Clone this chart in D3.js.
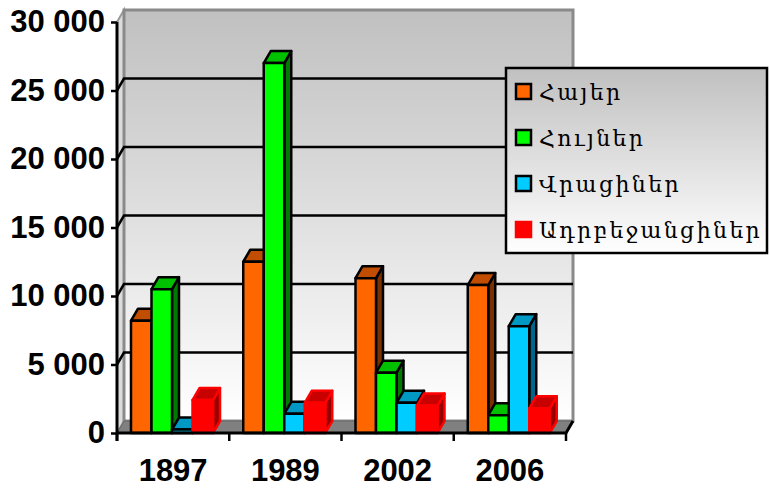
<!DOCTYPE html>
<html>
<head>
<meta charset="utf-8">
<script src="https://cdn.jsdelivr.net/npm/d3@7"></script>
<style>
    body { margin: 0; background: #fff; }
</style>
</head>
<body>
<div id="chart"></div>
<script>
var years = ["1897", "1989", "2002", "2006"];
var series = ["Հայեր", "Հույներ", "Վրացիներ", "Ադրբեջանցիներ"];
var armenians = [8200, 12500, 11300, 10800];
var greeks = [10500, 27000, 4400, 1300];
var georgians = [250, 1400, 2200, 7800];
var azerbaijanis = [2400, 2200, 2000, 1800];
var yTicks = [0, 5000, 10000, 15000, 20000, 25000, 30000];

var values = [armenians, greeks, georgians, azerbaijanis];
var colors = [
    { front: "#ff6600", top: "#c04d00", side: "#7a3000", stroke: "#000" },
    { front: "#00ff00", top: "#00c000", side: "#007a00", stroke: "#000" },
    { front: "#00ccff", top: "#0099c4", side: "#00658a", stroke: "#000" },
    { front: "#ff0000", top: "#c80000", side: "#960000", stroke: "#ff0000" }
];

/*********************** Plot Below *********************/
var width = 770, height = 488;
var dx = 7, dy = -12;
var x0 = 117, x1 = 566;

var y = d3.scaleLinear().domain([0, 30000]).range([433, 22]);
var x = d3.scaleBand().domain(years).range([x0, x1]);
var xs = d3.scaleBand().domain(series).range([14, 96]);

var fmt = d3.formatLocale({ decimal: ".", thousands: " ", grouping: [3], currency: ["", ""] }).format(",");

var svg = d3.select("#chart").append("svg")
    .attr("width", width)
    .attr("height", height);

var defs = svg.append("defs");
var grad = defs.append("linearGradient")
    .attr("id", "wall")
    .attr("x1", 0).attr("y1", 0).attr("x2", 0).attr("y2", 1);
grad.append("stop").attr("offset", "0%").attr("stop-color", "#c0c0c0");
grad.append("stop").attr("offset", "100%").attr("stop-color", "#ffffff");

var yTop = y(30000), yBase = y(0);

// side wall
svg.append("polygon")
    .attr("points", [[x0, yBase], [x0, yTop], [x0 + dx, yTop + dy], [x0 + dx, yBase + dy]].join(" "))
    .style("fill", "#dcdcdc")
    .style("stroke", "#999")
    .style("stroke-width", 2);

// back wall
svg.append("rect")
    .attr("x", x0 + dx)
    .attr("y", yTop + dy)
    .attr("width", x1 - x0)
    .attr("height", yBase - yTop)
    .style("fill", "url(#wall)")
    .style("stroke", "#8a8a8a")
    .style("stroke-width", 3);

// floor
svg.append("polygon")
    .attr("points", [[x0, yBase], [x1, yBase], [x1 + dx, yBase + dy], [x0 + dx, yBase + dy]].join(" "))
    .style("fill", "#808080")
    .style("stroke", "#666")
    .style("stroke-width", 1);

// gridlines
svg.append("g").selectAll("polyline")
    .data(yTicks.filter(function (d) { return d > 0 && d < 30000; }))
    .enter().append("polyline")
    .attr("points", function (d) {
        return [[x0, y(d)], [x0 + dx, y(d) + dy], [x1 + dx, y(d) + dy]].join(" ");
    })
    .style("fill", "none")
    .style("stroke", "#000")
    .style("stroke-width", 2.5);

// bars
var bars = [];
years.forEach(function (yr, i) {
    series.forEach(function (s, j) {
        bars.push({ year: yr, name: s, value: values[j][i], c: colors[j] });
    });
});

var bar = svg.append("g").selectAll("g")
    .data(bars)
    .enter().append("g")
    .style("stroke", function (d) { return d.c.stroke; })
    .style("stroke-width", 2.5)
    .style("stroke-linejoin", "round");

bar.append("polygon")
    .attr("points", function (d) {
        var bx = x(d.year) + xs(d.name), w = xs.bandwidth(), t = y(d.value);
        return [[bx + w, t], [bx + w + dx, t + dy], [bx + w + dx, yBase + dy], [bx + w, yBase]].join(" ");
    })
    .style("fill", function (d) { return d.c.side; });

bar.append("polygon")
    .attr("points", function (d) {
        var bx = x(d.year) + xs(d.name), w = xs.bandwidth(), t = y(d.value);
        return [[bx, t], [bx + dx, t + dy], [bx + w + dx, t + dy], [bx + w, t]].join(" ");
    })
    .style("fill", function (d) { return d.c.top; });

bar.append("rect")
    .attr("x", function (d) { return x(d.year) + xs(d.name); })
    .attr("y", function (d) { return y(d.value); })
    .attr("width", xs.bandwidth())
    .attr("height", function (d) { return yBase - y(d.value); })
    .style("fill", function (d) { return d.c.front; });

// front axes
var yAxis = d3.axisLeft(y).tickValues(yTicks).tickSize(6).tickPadding(6).tickFormat(fmt);
var ga = svg.append("g")
    .attr("transform", "translate(" + x0 + ",0)")
    .call(yAxis);
ga.select(".domain").remove();
ga.selectAll("line").style("stroke", "#000").style("stroke-width", 2.5);
ga.selectAll("text")
    .style("font-family", "'Liberation Sans', Arial, sans-serif")
    .style("font-weight", "bold")
    .style("font-size", "31px")
    .style("fill", "#000");

svg.append("line")
    .attr("x1", x0).attr("x2", x0)
    .attr("y1", yTop).attr("y2", yBase + 8)
    .style("stroke", "#000").style("stroke-width", 3);

svg.append("polyline")
    .attr("points", [[x0, yBase], [x1, yBase], [x1 + dx, yBase + dy]].join(" "))
    .style("fill", "none")
    .style("stroke", "#000").style("stroke-width", 3);

svg.append("g").selectAll("line")
    .data(years.map(function (d) { return x(d); }).concat([x1]))
    .enter().append("line")
    .attr("x1", function (d) { return d; }).attr("x2", function (d) { return d; })
    .attr("y1", yBase).attr("y2", yBase + 8)
    .style("stroke", "#000").style("stroke-width", 2.5);

svg.append("g").selectAll("text")
    .data(years)
    .enter().append("text")
    .attr("x", function (d) { return x(d) + x.bandwidth() / 2; })
    .attr("y", 481)
    .attr("text-anchor", "middle")
    .style("font-family", "'Liberation Sans', Arial, sans-serif")
    .style("font-weight", "bold")
    .style("font-size", "31px")
    .text(function (d) { return d; });

/****************** Legend Below **************************/
var legend = svg.append("g").attr("transform", "translate(506,68)");
legend.append("rect")
    .attr("width", 261)
    .attr("height", 185)
    .style("fill", "url(#wall)")
    .style("stroke", "#000")
    .style("stroke-width", 2.5);

var item = legend.selectAll("g")
    .data(series)
    .enter().append("g")
    .attr("transform", function (d, i) { return "translate(0," + (24 + i * 46) + ")"; });

item.append("rect")
    .attr("x", 10).attr("y", -8)
    .attr("width", 15).attr("height", 15)
    .style("fill", function (d, i) { return colors[i].front; })
    .style("stroke", function (d, i) { return colors[i].stroke; })
    .style("stroke-width", 2.5);

item.append("text")
    .attr("x", 33)
    .attr("y", 8)
    .style("font-family", "'DejaVu Serif', 'DejaVu Sans', serif")
    .style("font-size", "22px")
    .style("letter-spacing", "2.4px")
    .style("fill", "#000")
    .text(function (d) { return d; });
</script>
</body>
</html>
